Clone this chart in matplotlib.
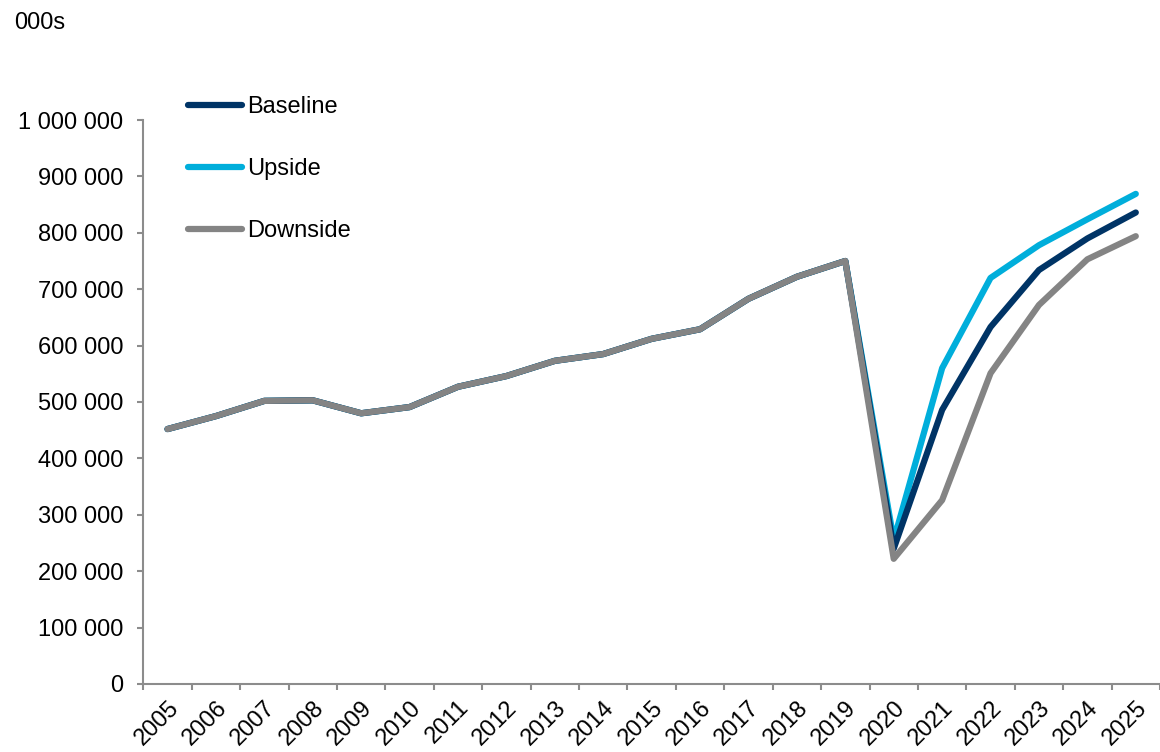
import matplotlib
matplotlib.use("Agg")
import matplotlib.pyplot as plt
from matplotlib.ticker import FuncFormatter, FixedLocator

years = [str(y) for y in range(2005, 2026)]
history = [452000, 475000, 502000, 503000, 480000, 491000, 527000, 546000,
           573000, 585000, 612000, 629000, 683000, 722000, 750000]
baseline_fc = [240000, 486000, 633000, 734000, 790000, 836000]
upside_fc = [255000, 560000, 720000, 778000, 824000, 869000]
downside_fc = [222000, 326000, 551000, 672000, 753000, 794000]

baseline = history + baseline_fc
upside = history + upside_fc
downside = history + downside_fc

plt.rcParams['font.family'] = ['Liberation Sans', 'DejaVu Sans']

W, H = 1160, 752
fig = plt.figure(figsize=(W / 100, H / 100), dpi=100)
left_px, bottom_px, top_px = 143.3, 684, 120
cat_w = 48.78
ax = fig.add_axes([left_px / W, 1 - bottom_px / H, (W - left_px) / W, (bottom_px - top_px) / H])

x = list(range(len(years)))
lw = 4.5
ax.plot(x, baseline, color='#003466', lw=lw, solid_capstyle='round', solid_joinstyle='round', label='Baseline', zorder=3)
ax.plot(x, upside, color='#00AEDB', lw=lw, solid_capstyle='round', solid_joinstyle='round', label='Upside', zorder=2)
ax.plot(x, downside, color='#848484', lw=lw, solid_capstyle='round', solid_joinstyle='round', label='Downside', zorder=4)

ax.set_ylim(0, 1000000)
ax.set_xlim(-0.5, -0.5 + (W - left_px) / cat_w)

ax.yaxis.set_major_locator(FixedLocator(range(0, 1000001, 100000)))
ax.yaxis.set_major_formatter(FuncFormatter(lambda v, p: f"{int(v):,}".replace(",", " ")))

ax.set_xticks(x)
ax.set_xticklabels(years, rotation=45, ha='right', rotation_mode='anchor')
ax.set_xticks([i - 0.5 for i in range(len(years) + 1)], minor=True)
ax.tick_params(axis='x', which='major', length=0, pad=9, labelsize=17)
ax.tick_params(axis='x', which='minor', length=4.5, width=1.5, color='#8c8c8c', direction='out')
ax.tick_params(axis='y', length=4.5, width=1.5, color='#8c8c8c', direction='out', pad=10, labelsize=17)

for s in ['top', 'right']:
    ax.spines[s].set_visible(False)
for s in ['left', 'bottom']:
    ax.spines[s].set_color('#8c8c8c')
    ax.spines[s].set_linewidth(1.5)

handles, labels = ax.get_legend_handles_labels()
leg = ax.legend(handles, labels, loc='upper left', bbox_to_anchor=(188 / W, 1 - 96 / H),
                bbox_transform=fig.transFigure, frameon=False, fontsize=17,
                handlelength=2.3, handletextpad=0.2, labelspacing=1.7,
                borderpad=0, borderaxespad=0)

fig.text(14 / W, 1 - 23 / H, '000s', fontsize=17, ha='left', va='center')

fig.savefig('out.png', dpi=100)
